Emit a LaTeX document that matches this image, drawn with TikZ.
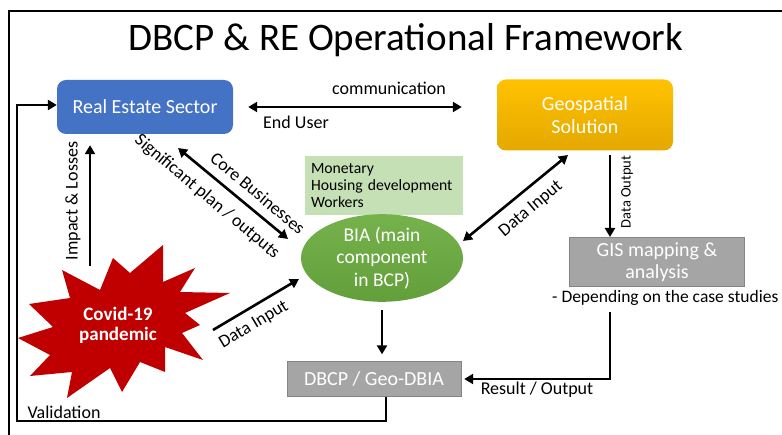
\documentclass[tikz,border=0pt]{standalone}
\usepackage{fontspec}
\setmainfont{Carlito}
\usetikzlibrary{positioning,shapes.geometric,arrows.meta}
\definecolor{reblue}{RGB}{68,114,196}
\definecolor{geogold}{RGB}{255,194,0}
\definecolor{geogolddark}{RGB}{228,168,0}
\definecolor{biagreen}{RGB}{118,178,76}
\definecolor{biagreendark}{RGB}{98,158,58}
\definecolor{factgreen}{RGB}{197,224,180}
\definecolor{boxgray}{RGB}{165,165,165}
\definecolor{covidred}{RGB}{192,0,0}

\begin{document}
\begin{tikzpicture}[x=1pt, y=-1pt,
                box/.style={rectangle, rounded corners=9pt, text=white,
                    align=center, inner sep=0pt, font=\fontsize{20}{23}\selectfont},
                graybox/.style={rectangle, fill=boxgray, draw=boxgray!80!black,
                    text=white, align=center, inner sep=0pt,
                    font=\fontsize{20}{22}\selectfont},
                lbl/.style={font=\fontsize{18}{20}\selectfont, inner sep=0pt},
                line/.style={line width=2.6pt, -{Triangle[length=9pt,width=10pt]}},
                both/.style={line width=2.6pt,
                    {Triangle[length=9pt,width=10pt]}-{Triangle[length=9pt,width=10pt]}}
                ]
                \useasboundingbox (0,0) rectangle (782,435);
                \draw[line width=1.2pt] (9,435) -- (9,11) -- (782,11);
                \node[font=\fontsize{39}{42}\selectfont] (title) at (406,40)
                    {DBCP \& RE Operational Framework};

                % boxes
                \node[box, fill=reblue, minimum width=176pt, minimum height=54pt] (res)
                    at (145,107) {Real Estate Sector};
                \node[box, top color=geogold, bottom color=geogolddark,
                    minimum width=176pt, minimum height=71pt] (geo) at (585,115)
                    {Geospatial\\Solution};
                \node[fill=factgreen, minimum height=59pt, text width=146pt, inner sep=6pt,
                    align=left, font=\fontsize{15.7}{17}\selectfont] (facts)
                    at (384,186) {Monetary\\Housing development\\Workers};
                \node[ellipse, top color=biagreen, bottom color=biagreendark,
                    minimum width=162pt, minimum height=84pt, inner sep=0pt, text=white,
                    align=center, font=\fontsize{19.5}{22.5}\selectfont] (bia)
                    at (382,258) {BIA (main\\component\\in BCP)};
                \node[graybox, minimum width=175pt, minimum height=49pt] (gis)
                    at (657,262) {GIS mapping \&\\analysis};
                \node[lbl, anchor=west, font=\fontsize{17.5}{20}\selectfont] (dep)
                    at (552,298) {- Depending on the case studies};
                \node[graybox, minimum width=174pt, minimum height=35pt] (dbcp)
                    at (374,379) {DBCP / Geo-DBIA};

                % covid star
                \fill[covidred] (163,245) -- (163,282) -- (195,268) -- (180,292)
                    -- (230,293) -- (185,313) -- (200,325) -- (182,333) -- (203,360)
                    -- (165,347) -- (165,372) -- (140,362) -- (122,392) -- (110,368)
                    -- (67,398) -- (72,372) -- (30,376) -- (50,355) -- (18,338)
                    -- (53,327) -- (29,304) -- (70,298) -- (62,270) -- (100,290)
                    -- (113,258) -- (130,273) -- cycle;
                \node[text=white, align=center, inner sep=0pt,
                    font=\fontsize{19}{20}\bfseries\selectfont] (covid)
                    at (118,325) {Covid-19\\pandemic};

                % connectors
                \draw[both, shorten <=15pt, shorten >=35pt] (res.east)
                    -- (res.east -| geo.west);
                \node[lbl] (comm) at (389,88) {communication};
                \node[lbl] (user) at (296,122) {End User};
                \draw[line, shorten >=11pt] (90,266) -- (90,266 |- res.south);
                \node[lbl, rotate=90] (impact) at (73,201) {Impact \& Losses};
                \draw[both] (178,148) -- (288,239);
                \node[lbl, rotate=-40] (core) at (258,193) {Core Businesses};
                \node[lbl, rotate=-40] (plan) at (207,197) {Significant plan / outputs};
                \draw[line] (213,330) -- (299,279);
                \node[lbl, rotate=31] (din1) at (254,325) {Data Input};
                \draw[both] (463,241) -- (568,155);
                \node[lbl, rotate=40] (din2) at (531,209) {Data Input};
                \draw[line] (610,155) -- (610,237);
                \node[lbl, rotate=90, font=\fontsize{14.5}{16}\selectfont] (dout)
                    at (627,192) {Data Output};
                \draw[line, shorten <=8pt, shorten >=7pt] (bia.south)
                    -- (bia.south |- dbcp.north);
                \draw[line, shorten >=3pt] (610,312) -- (610,379) -- (dbcp.east);
                \node[lbl] (result) at (537,390) {Result / Output};
                \draw[line] (dbcp.south -| 386,0) -- (386,421) -- (17,421) -- (17,105)
                    -- (res.west |- 0,105);
                \node[lbl] (validation) at (64,412) {Validation};
            \end{tikzpicture}
\end{document}
